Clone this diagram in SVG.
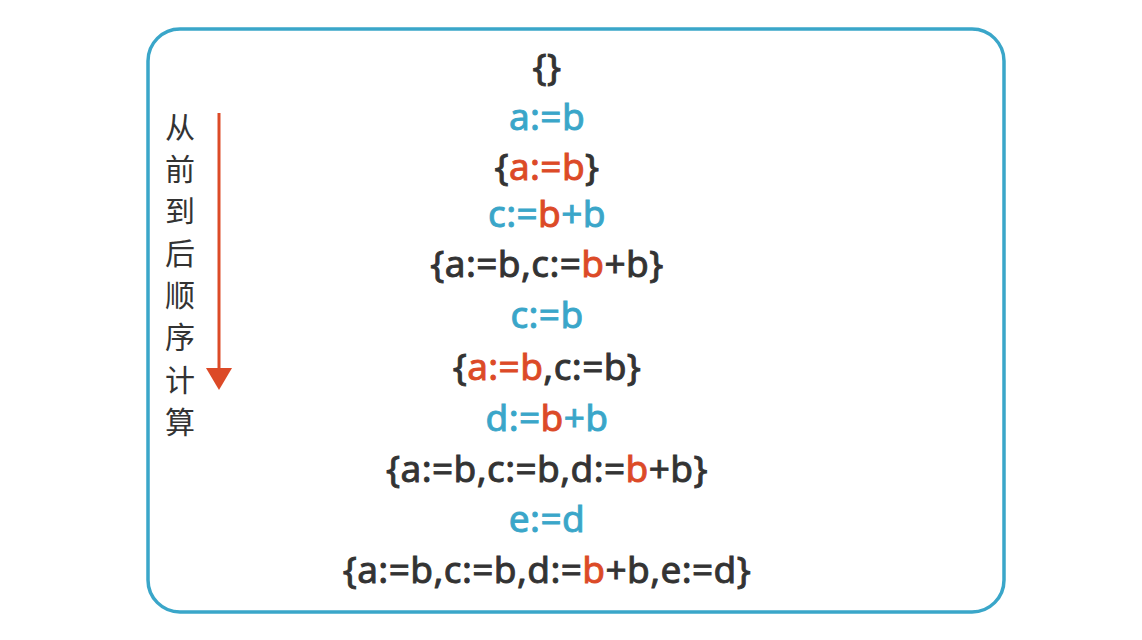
<svg xmlns="http://www.w3.org/2000/svg" width="1142" height="640" viewBox="0 0 1142 640">
<style>
.t{font-family:"Noto Sans","Noto Sans CJK SC",sans-serif;font-size:37px;letter-spacing:0.4px;text-anchor:middle;fill:#333;stroke:#333;stroke-width:0.9px}
.b{fill:#3aa6c9;stroke:#3aa6c9}
.r{fill:#dc4a27;stroke:#dc4a27}
.v{font-family:"Noto Sans CJK SC",sans-serif;font-size:30px;fill:#333;text-anchor:middle}
</style>
<rect width="1142" height="640" fill="#fff"/>
<g id="frame"><rect x="148" y="29" width="856" height="583" rx="32" fill="none" stroke="#3aa6c9" stroke-width="3.5"/></g>
<g id="label">
<text class="v" x="180" y="138">从</text>
<text class="v" x="180" y="180">前</text>
<text class="v" x="180" y="222">到</text>
<text class="v" x="180" y="264">后</text>
<text class="v" x="180" y="306">顺</text>
<text class="v" x="180" y="348">序</text>
<text class="v" x="180" y="391">计</text>
<text class="v" x="180" y="433">算</text>
</g>
<g id="connectors">
<path d="M219,113 L219,368" stroke="#dc4a27" stroke-width="3" fill="none"/>
<path d="M206,368 L232,368 L219,390 Z" fill="#dc4a27"/>
</g>
<g id="lines">
<text class="t" x="547" y="80">{}</text>
<text class="t b" x="547" y="130">a:=b</text>
<text class="t" x="547" y="180">{<tspan class="r">a:=b</tspan>}</text>
<text class="t b" x="547" y="227">c:=<tspan class="r">b</tspan>+b</text>
<text class="t" x="547" y="277">{a:=b,c:=<tspan class="r">b</tspan>+b}</text>
<text class="t b" x="547" y="328">c:=b</text>
<text class="t" x="547" y="380">{<tspan class="r">a:=b</tspan>,c:=b}</text>
<text class="t b" x="547" y="431">d:=<tspan class="r">b</tspan>+b</text>
<text class="t" x="547" y="482">{a:=b,c:=b,d:=<tspan class="r">b</tspan>+b}</text>
<text class="t b" x="547" y="532">e:=d</text>
<text class="t" x="547" y="583">{a:=b,c:=b,d:=<tspan class="r">b</tspan>+b,e:=d}</text>
</g>
</svg>
